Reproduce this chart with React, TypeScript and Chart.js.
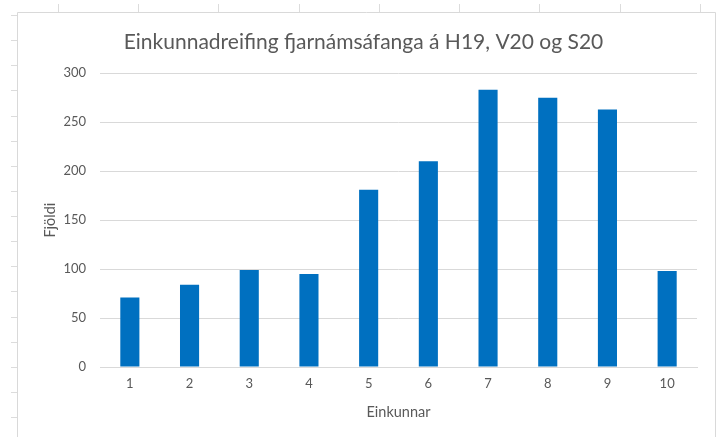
import React, { useEffect, useRef } from "react";
import { Chart, registerables } from "chart.js";

Chart.register(...registerables);

const chartTitle = "Einkunnadreifing fjarnámsáfanga á H19, V20 og S20";
const xAxisTitle = "Einkunnar";
const yAxisTitle = "Fjöldi";
const categories = ["1", "2", "3", "4", "5", "6", "7", "8", "9", "10"];
const counts = [71, 84, 99, 95, 181, 210, 283, 275, 263, 98];
const yMin = 0;
const yMax = 300;
const yStep = 50;

const W = 716;
const H = 437;
const FONT = "Lato, 'Open Sans', sans-serif";
const TEXT = "#595959";

const sheetFrame = {
  id: "sheetFrame",
  beforeDraw(chart: any) {
    const ctx = chart.ctx as CanvasRenderingContext2D;
    ctx.save();
    ctx.fillStyle = "#ffffff";
    ctx.fillRect(0, 0, W, H);
    ctx.strokeStyle = "#dcdcdc";
    ctx.lineWidth = 1;
    const colTicks = [58, 138, 218, 299, 379, 459, 539, 620, 700];
    ctx.beginPath();
    for (const x of colTicks) {
      ctx.moveTo(x + 0.5, 4);
      ctx.lineTo(x + 0.5, 12);
    }
    for (let i = 0; i < 18; i++) {
      const y = Math.round(15 + i * 25.13) + 0.5;
      ctx.moveTo(11, y);
      ctx.lineTo(17, y);
    }
    ctx.stroke();
    ctx.strokeStyle = "#d9d9d9";
    ctx.beginPath();
    ctx.moveTo(17.5, H);
    ctx.lineTo(17.5, 12.5);
    ctx.lineTo(715.5, 12.5);
    ctx.lineTo(715.5, H);
    ctx.stroke();
    ctx.restore();
  },
};

export default function App() {
  const ref = useRef<HTMLCanvasElement | null>(null);

  useEffect(() => {
    document.body.style.margin = "0";
    const canvas = ref.current;
    if (!canvas) return;
    const chart = new Chart(canvas, {
      type: "bar",
      data: {
        labels: categories,
        datasets: [
          {
            data: counts,
            backgroundColor: "#0070c0",
            borderWidth: 0,
            barPercentage: 0.32,
            categoryPercentage: 1,
          },
        ],
      },
      options: {
        responsive: false,
        animation: false,
        devicePixelRatio: 1,
        layout: { padding: { left: 30, right: 19, top: 0, bottom: 0 } },
        plugins: {
          legend: { display: false },
          tooltip: { enabled: false },
          title: {
            display: true,
            text: chartTitle,
            color: TEXT,
            font: { family: FONT, size: 21, weight: "normal" },
            padding: { top: 30, bottom: 18 },
          },
        },
        scales: {
          x: {
            grid: { display: false, drawTicks: false },
            border: { display: true, color: "#d9d9d9" },
            ticks: {
              color: TEXT,
              font: { family: FONT, size: 13 },
              padding: 9,
              maxRotation: 0,
            },
            title: {
              display: true,
              text: xAxisTitle,
              color: TEXT,
              font: { family: FONT, size: 14.5 },
              padding: { top: 0, bottom: 16 },
            },
            afterFit(scale: any) {
              scale.height = 70;
            },
          },
          y: {
            min: yMin,
            max: yMax,
            grid: { color: "#d9d9d9", drawTicks: false },
            border: { display: false },
            ticks: {
              stepSize: yStep,
              color: TEXT,
              font: { family: FONT, size: 13 },
              padding: 14,
            },
            title: {
              display: true,
              text: yAxisTitle,
              color: TEXT,
              font: { family: FONT, size: 14.5 },
              padding: { top: 12, bottom: 0 },
            },
            afterFit(scale: any) {
              scale.width = 70;
            },
          },
        },
      },
      plugins: [sheetFrame],
    });
    return () => chart.destroy();
  }, []);

  return (
    <div style={{ position: "fixed", left: 0, top: 0, width: W, height: H, background: "#fff" }}>
      <canvas ref={ref} width={W} height={H} style={{ width: W, height: H, display: "block" }} />
    </div>
  );
}
